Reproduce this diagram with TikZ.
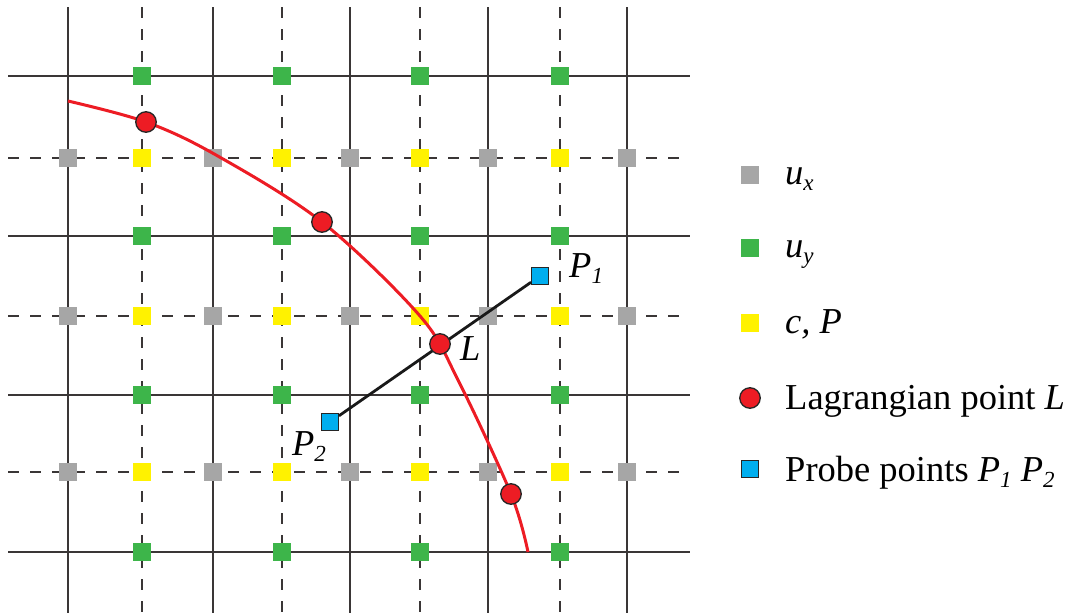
\documentclass[tikz,border=0pt]{standalone}
\usepackage{fontspec}
\setmainfont{Liberation Serif}
\definecolor{gridc}{HTML}{3A3636}
\definecolor{ugray}{HTML}{A6A6A6}
\definecolor{ugreen}{HTML}{3DB54A}
\definecolor{uyellow}{HTML}{FFF200}
\definecolor{lred}{HTML}{ED1C24}
\definecolor{pblue}{HTML}{00AEEF}
\newcommand{\lbsub}[1]{\raisebox{-6pt}{\fontsize{23}{23}\selectfont\itshape #1}}
\begin{document}
\begin{tikzpicture}[x=1pt,y=-1pt,
  solidline/.style={gridc, line width=1.3pt},
  dashline/.style={gridc, line width=1.3pt, dash pattern=on 11pt off 11pt},
  sq/.style={rectangle, minimum size=18pt, inner sep=0pt, draw=none},
  uxsq/.style={sq, fill=ugray},
  uysq/.style={sq, fill=ugreen},
  cpsq/.style={sq, fill=uyellow},
  lagpt/.style={circle, minimum size=20.5pt, inner sep=0pt, fill=lred, draw=black!85, line width=1.3pt},
  probe/.style={rectangle, minimum size=16.5pt, inner sep=0pt, fill=pblue, draw=black!85, line width=1.4pt},
  lbl/.style={inner sep=0pt, anchor=base west, font=\fontsize{36.5}{40}\selectfont}
]
\useasboundingbox (0,0) rectangle (1070,613);
% grid
\foreach \y in {76,236,395,552} \draw[solidline] (8,\y) -- (690,\y);
\foreach \y in {158,316,472} \draw[dashline] (8,\y) -- (690,\y);
\foreach \x in {68,213,350,488,627} \draw[solidline] (\x,7) -- (\x,613);
\foreach \x in {142,282,420,560} \draw[dashline] (\x,7) -- (\x,613);
% staggered unknowns
\foreach \x [count=\i] in {68,213,350,488,627}
  \foreach \y [count=\j] in {158,316,472}
    \node[uxsq] (ux-\i-\j) at (\x,\y) {};
\foreach \x [count=\i] in {142,282,420,560}
  \foreach \y [count=\j] in {76,236,395,552}
    \node[uysq] (uy-\i-\j) at (\x,\y) {};
\foreach \x [count=\i] in {142,282,420,560}
  \foreach \y [count=\j] in {158,316,472}
    \node[cpsq] (cp-\i-\j) at (\x,\y) {};
% boundary
\draw[lred, line width=3pt] plot[smooth, tension=0.55] coordinates {(68,101) (146,122) (216,155) (322,222) (420,316) (458,380) (511,494) (528,552)};
% probes
\node[probe] (p1) at (540,276) {};
\node[probe] (p2) at (330,422) {};
\draw[black!90, line width=2.8pt] (p2) -- (p1);
% Lagrangian points
\node[lagpt] (l1) at (146,122) {};
\node[lagpt] (l2) at (322,222) {};
\node[lagpt] (lag) at (440,344) {};
\node[lagpt] (l4) at (511,494) {};
% labels
\node[lbl] (lp1) at (569,277) {\textit{P}\lbsub{1}};
\node[lbl] (lp2) at (292,455) {\textit{P}\lbsub{2}};
\node[lbl] (lL) at (460,360) {\textit{L}};
% legend
\node[uxsq] (kux) at (750,175) {};
\node[uysq] (kuy) at (750,248) {};
\node[cpsq] (kcp) at (750,323) {};
\node[lagpt] (klag) at (750,398) {};
\node[probe] (kprobe) at (750,469) {};
\node[lbl] (tux) at (785,184) {\textit{u}\lbsub{x}};
\node[lbl] (tuy) at (785,257) {\textit{u}\lbsub{y}};
\node[lbl] (tcp) at (785,333) {\textit{c, P}};
\node[lbl] (tlag) at (785,409) {Lagrangian point \textit{L}};
\node[lbl] (tprobe) at (785,481) {Probe points \textit{P}\lbsub{1} \textit{P}\lbsub{2}};
\end{tikzpicture}
\end{document}
